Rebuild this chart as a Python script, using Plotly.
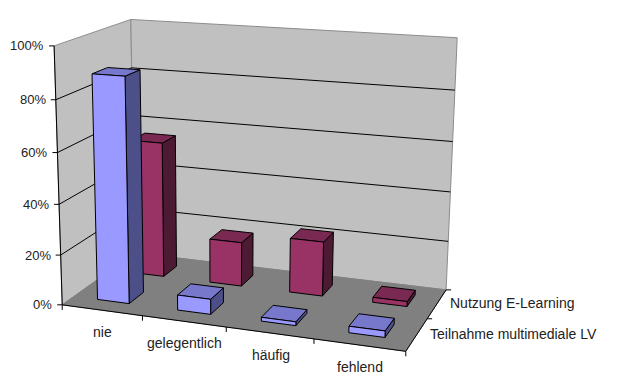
import numpy as np
import plotly.graph_objects as go

categories = ["nie", "gelegentlich", "häufig", "fehlend"]
series_names = ["Teilnahme multimediale LV", "Nutzung E-Learning"]
teilnahme = [88.5, 6, 1.5, 2.5]
nutzung = [55.5, 18, 22, 2]
y_ticks = [0, 20, 40, 60, 80, 100]
y_tick_labels = ["0%", "20%", "40%", "60%", "80%", "100%"]

FONT = "Liberation Sans, Arial, sans-serif"
TXT = "#222222"
WALL, FLOOR, WALL_EDGE = "#c0c0c0", "#808080", "#8c8c8c"
STYLES = [
    dict(front="#9999ff", top="#7777cc", side="#4d5088"),
    dict(front="#993366", top="#7a2952", side="#4d1a33"),
]

# Perspective camera of the 3-D chart box: box corner -> page position
cal_box = [(0, 0, 0), (4, 0, 0), (4, 2, 0), (0, 2, 0), (0, 0, 100), (0, 2, 100), (4, 2, 100)]
cal_page = [(64, 305), (405, 352), (447, 289), (133, 253), (53, 45), (132, 20), (457, 38)]


def camera(box, page):
    rows = []
    for (a, b, c), (px, py) in zip(box, page):
        rows.append([a, b, c, 1, 0, 0, 0, 0, -px * a, -px * b, -px * c, -px])
        rows.append([0, 0, 0, 0, a, b, c, 1, -py * a, -py * b, -py * c, -py])
    return np.linalg.svd(np.array(rows, float))[2][-1].reshape(3, 4)


P = camera(cal_box, cal_page)


def proj(u, v, w):
    h = P @ np.array([u, v, w, 1.0])
    return h[0] / h[2], h[1] / h[2]


fig = go.Figure()


def poly(pts, fill=None, line="black", width=1, closed=True):
    xy = [proj(*p) for p in pts]
    if closed:
        xy.append(xy[0])
    fig.add_trace(go.Scatter(
        x=[q[0] for q in xy], y=[q[1] for q in xy], mode="lines",
        fill="toself" if fill else "none", fillcolor=fill,
        line=dict(color=line, width=width), hoverinfo="skip", showlegend=False))


def tick(u, v, w, dx, dy):
    x, y = proj(u, v, w)
    fig.add_trace(go.Scatter(x=[x, x + dx], y=[y, y + dy], mode="lines",
                             line=dict(color="black", width=1),
                             hoverinfo="skip", showlegend=False))


def label(x, y, text, anchor, size=14):
    fig.add_annotation(x=x, y=y, text=text, xref="x", yref="y", showarrow=False,
                       xanchor=anchor, yanchor="middle", borderpad=0,
                       font=dict(family=FONT, size=size, color=TXT))


# Walls and floor
poly([(0, 0, 0), (0, 2, 0), (0, 2, 100), (0, 0, 100)], WALL, WALL_EDGE)
poly([(0, 2, 0), (4, 2, 0), (4, 2, 100), (0, 2, 100)], WALL, WALL_EDGE)
poly([(0, 0, 0), (4, 0, 0), (4, 2, 0), (0, 2, 0)], FLOOR, FLOOR)

# Gridlines
for t in y_ticks[1:-1]:
    poly([(0, 0, t), (0, 2, t), (4, 2, t)], closed=False)

# Axes and ticks
poly([(0, 0, 0), (0, 0, 100)], closed=False)
poly([(0, 0, 0), (4, 0, 0)], closed=False)
poly([(4, 0, 0), (4, 2, 0)], closed=False)
for t in y_ticks:
    tick(0, 0, t, -5, 0)
for i in range(len(categories) + 1):
    tick(i, 0, 0, 0, 5)
for j in range(1, len(series_names) + 1):
    tick(4, j, 0, 5, 0)

# Bars, back row first
WIDTH, DEPTH = 0.4, 0.4
for j in (1, 0):
    vals = (teilnahme, nutzung)[j]
    st = STYLES[j]
    v0, v1 = j + 0.5 - DEPTH / 2, j + 0.5 + DEPTH / 2
    for i, val in enumerate(vals):
        u0, u1 = i + 0.5 - WIDTH / 2, i + 0.5 + WIDTH / 2
        poly([(u1, v0, 0), (u1, v1, 0), (u1, v1, val), (u1, v0, val)], st["side"])
        poly([(u0, v0, val), (u1, v0, val), (u1, v1, val), (u0, v1, val)], st["top"])
        poly([(u0, v0, 0), (u1, v0, 0), (u1, v0, val), (u0, v0, val)], st["front"])

# Text labels
for t, s in zip(y_ticks, y_tick_labels):
    x, y = proj(0, 0, t)
    label(x - 9, y, s, "right", 13)
for i, c in enumerate(categories):
    x, y = proj(i + 0.5, 0, 0)
    label(x + 1, y + 22, c, "center")
for j, s in enumerate(series_names):
    x, y = proj(4, j + 0.5, 0)
    label(x + 12, y - 1, s, "left")

fig.update_xaxes(range=[0, 624], visible=False, fixedrange=True)
fig.update_yaxes(range=[387, 0], visible=False, fixedrange=True)
fig.update_layout(width=624, height=387, margin=dict(l=0, r=0, t=0, b=0),
                  paper_bgcolor="white", plot_bgcolor="white", showlegend=False)
fig.write_html("out.html", config=dict(displayModeBar=False),
               post_script="document.body.style.margin='0';document.body.style.overflow='hidden';")
